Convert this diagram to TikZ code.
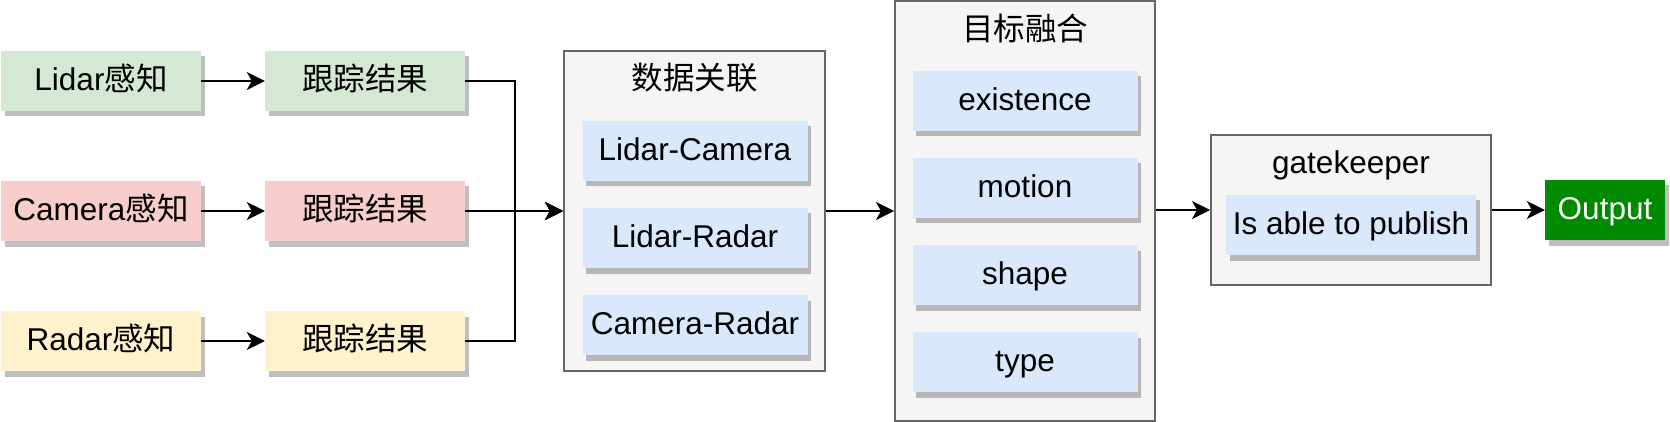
\documentclass[tikz,border=0pt]{standalone}
\usepackage{fontspec}
\setmainfont{Liberation Sans}
\newfontfamily\cjk{Noto Sans CJK SC}
\usetikzlibrary{arrows.meta,shadows}
\definecolor{gfill}{HTML}{D5E8D4}
\definecolor{rfill}{HTML}{F8CECC}
\definecolor{yfill}{HTML}{FFF2CC}
\definecolor{bfill}{HTML}{DAE8FC}
\definecolor{cfill}{HTML}{F5F5F5}
\definecolor{cline}{HTML}{666666}
\definecolor{ofill}{HTML}{008A00}
\tikzset{
  txt/.style={inner sep=0pt, font=\fontsize{31.5}{38}\selectfont, text height=25.5pt, text depth=6pt},
  shdw/.style={drop shadow={shadow xshift=3.5pt, shadow yshift=-5.5pt, fill=black, opacity=0.25}},
  box/.style={txt, shdw, draw=none, minimum height=60pt},
  srcbox/.style={box, minimum width=200pt},
  inbox/.style={box, fill=bfill, minimum width=225pt},
  cont/.style={draw=cline, fill=cfill, line width=2pt, inner sep=0pt},
  conn/.style={line width=2pt, -{Stealth[length=18pt, width=18pt, inset=5pt]}},
  plain/.style={line width=2pt}
}
\begin{document}
\begin{tikzpicture}[x=1pt, y=-1pt]
\useasboundingbox (0,0) rectangle (1670,422);
% sources
\node[srcbox, fill=gfill] (lidar) at (101,81) {Lidar{\cjk 感知}};
\node[srcbox, fill=rfill] (camera) at (101,211) {Camera{\cjk 感知}};
\node[srcbox, fill=yfill] (radar) at (101,341) {Radar{\cjk 感知}};
\node[srcbox, fill=gfill] (trk1) at (365,81) {\cjk 跟踪结果};
\node[srcbox, fill=rfill] (trk2) at (365,211) {\cjk 跟踪结果};
\node[srcbox, fill=yfill] (trk3) at (365,341) {\cjk 跟踪结果};
% data association
\node[cont, minimum width=261pt, minimum height=320pt] (assoc) at (694.5,211) {};
\node[txt] (assocT) at (694.5,80) {\cjk 数据关联};
\node[inbox] (lc) at (695,151) {Lidar-Camera};
\node[inbox] (lr) at (695,238) {Lidar-Radar};
\node[inbox] (cr) at (695,325) {Camera-Radar};
% fusion
\node[cont, minimum width=260pt, minimum height=420pt] (fuse) at (1025,211) {};
\node[txt] (fuseT) at (1025,31) {\cjk 目标融合};
\node[inbox] (ex) at (1025,101) {existence};
\node[inbox] (mo) at (1025,188) {motion};
\node[inbox] (sh) at (1025,275) {shape};
\node[inbox] (ty) at (1025,362) {type};
% gatekeeper
\node[cont, minimum width=280pt, minimum height=150pt] (gate) at (1351,210) {};
\node[txt] (gateT) at (1351,164) {gatekeeper};
\node[inbox, minimum width=250pt] (pub) at (1351,225) {Is able to publish};
% output
\node[box, fill=ofill, text=white, minimum width=120pt] (out) at (1605,210) {Output};
% connectors
\coordinate (j) at (515,211);
\draw[conn] (lidar) -- (trk1);
\draw[conn] (camera) -- (trk2);
\draw[conn] (radar) -- (trk3);
\draw[conn] (trk1.east) -| (j) -- (assoc.west);
\draw[conn] (trk3.east) -| (j) -- (assoc.west);
\draw[conn] (trk2.east) -- (assoc.west);
\draw[conn] (assoc.east) -- (fuse.west |- assoc.east);
\draw[conn] (fuse.east |- gate.west) -- (gate.west);
\draw[conn] (gate.east) -- (out.west);
\end{tikzpicture}
\end{document}
